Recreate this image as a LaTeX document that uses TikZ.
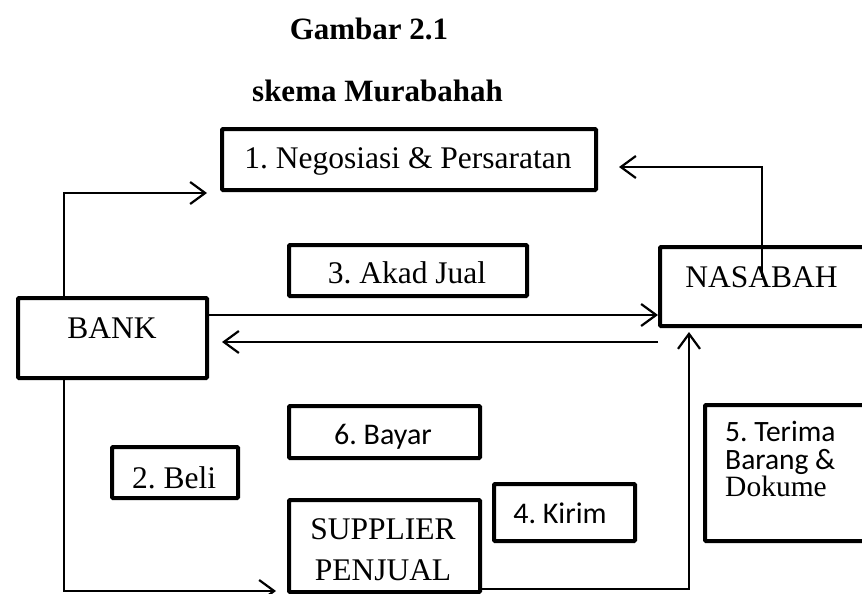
\documentclass[tikz,border=0pt]{standalone}
\usepackage{fontspec}
\setmainfont{Liberation Serif}
\newfontfamily\calfont{Carlito}
\usetikzlibrary{arrows.meta}
\begin{document}
\frenchspacing
\begin{tikzpicture}[x=1pt,y=-1pt]
\tikzset{
  boxs/.style={draw=black, line width=4pt, inner sep=0pt, rounded corners=1pt},
  conn/.style={line width=2.2pt, -{Straight Barb[length=15pt,width=22pt]}},
  serift/.style={font=\fontsize{31.5}{36}\selectfont, inner sep=0pt, anchor=base},
  sanst/.style={font=\calfont\fontsize{30}{34}\selectfont, inner sep=0pt, anchor=base},
  titlet/.style={font=\bfseries\fontsize{31}{36}\selectfont, inner sep=0pt, anchor=base},
}
\path[use as bounding box] (0,0) rectangle (862,594);
\clip (0,0) rectangle (862,594);
\fill[white] (0,0) rectangle (862,594);

% titles
\node[titlet] (title1) at (369,40) {Gambar 2.1};
\node[titlet] (title2) at (377.5,101) {skema Murabahah};

% boxes
\node[boxs, minimum width=374pt, minimum height=61pt] (neg) at (409,159.5) {};
\node[boxs, minimum width=189pt, minimum height=80pt] (bank) at (112.5,338) {};
\node[boxs, minimum width=238pt, minimum height=51pt] (akad) at (408,270.5) {};
\node[boxs, minimum width=240pt, minimum height=79pt] (nasabah) at (780,286.5) {};
\node[boxs, minimum width=191pt, minimum height=52pt] (bayar) at (384.5,432) {};
\node[boxs, minimum width=126pt, minimum height=51pt] (beli) at (175,472.5) {};
\node[boxs, minimum width=191pt, minimum height=92pt] (supplier) at (384.5,546) {};
\node[boxs, minimum width=141pt, minimum height=57pt] (kirim) at (564.5,512.5) {};
\node[boxs, minimum width=200pt, minimum height=136pt] (terima) at (805,473) {};

% texts
\node[serift] (negT) at (408,168) {1. Negosiasi \& Persaratan};
\node[serift] (bankT) at (112,338) {BANK};
\node[serift] (akadT) at (407,283) {3. Akad Jual};
\node[serift] (nasT) at (761.5,287) {NASABAH};
\node[sanst] (bayarT) at (383,444) {6. Bayar};
\node[serift] (beliT) at (174,488) {2. Beli};
\node[serift] (supT1) at (383,539) {SUPPLIER};
\node[serift] (supT2) at (383,580) {PENJUAL};
\node[sanst] (kirimT) at (560,523) {4. Kirim};
\node[anchor=north west, inner sep=0pt, align=left, font=\fontsize{29.5}{27.5}\selectfont] (terT) at (725,421)
  {{\calfont 5. Terima}\\{\calfont Barang \&}\\Dokume};

% helper coordinates
\coordinate (lx) at (64,0);
\coordinate (r1) at (0,315);
\coordinate (r2) at (0,342);
\coordinate (r6) at (0,589);
\coordinate (a1) at (207,193);
\coordinate (a2) at (276,591);
\coordinate (a4) at (222,342);
\coordinate (c5) at (762,277);
\coordinate (a5) at (619,167);
\coordinate (a6) at (689,332);

% connectors
\draw[conn] (bank.north -| lx) |- (a1);
\draw[conn] (bank.south -| lx) |- (a2);
\draw[conn] (bank.east |- r1) -- (nasabah.west |- r1);
\draw[conn] (nasabah.west |- r2) -- (a4);
\draw[conn] (c5) |- (a5);
\draw[conn] (supplier.east |- r6) -| (a6);
\end{tikzpicture}
\end{document}
